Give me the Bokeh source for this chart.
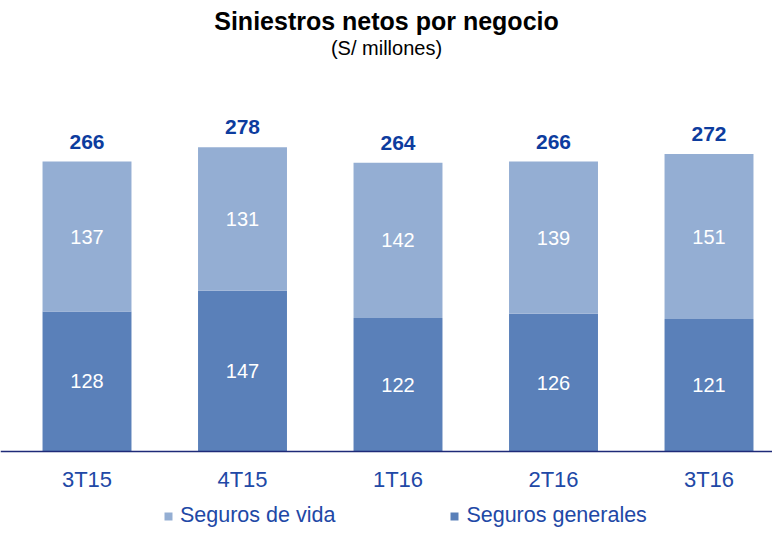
from bokeh.plotting import figure
from bokeh.models import (ColumnDataSource, Range1d, Title, Legend,
                          LegendItem, LabelSet, Span)
from bokeh.embed import file_html
from bokeh.resources import INLINE
from bokeh.core.properties import value

categories = ["3T15", "4T15", "1T16", "2T16", "3T16"]
seguros_generales = [128, 147, 122, 126, 121]
seguros_vida = [137, 131, 142, 139, 151]
totales = [266, 278, 264, 266, 272]

C_VIDA = "#94AED3"
C_GEN = "#5A80B9"
C_TOTAL = "#0D3C9E"
C_AXLBL = "#2148A6"
C_AXLINE = "#1E2A78"
FONT = "Liberation Sans"

xs = list(range(len(categories)))
src = ColumnDataSource(dict(
    x=xs,
    cat=categories,
    base=[0] * len(categories),
    gen=seguros_generales,
    vida=seguros_vida,
    total=totales,
    gen_mid=[g / 2 for g in seguros_generales],
    vida_mid=[g + v / 2 for g, v in zip(seguros_generales, seguros_vida)],
    top=[g + v for g, v in zip(seguros_generales, seguros_vida)],
    gen_lbl=[str(g) for g in seguros_generales],
    vida_lbl=[str(v) for v in seguros_vida],
    tot_lbl=[str(t) for t in totales],
))

W, H = 772, 536
p = figure(width=W, height=H, output_backend="svg", toolbar_location=None,
           x_range=Range1d(-0.5563, 4.4083), y_range=Range1d(-77.7, 359.2),
           min_border=0, min_border_top=58, outline_line_color=None,
           background_fill_color="white", border_fill_color="white",
           x_axis_type=None, y_axis_type=None)

sub = Title(text="(S/ millones)", align="center", text_font=FONT,
            text_font_size="20px", text_font_style="normal", text_color="black",
            standoff=0, offset=4)
main = Title(text="Siniestros netos por negocio", align="center", text_font=FONT,
             text_font_size="25px", text_font_style="bold", text_color="black",
             standoff=0, offset=6)
p.add_layout(sub, "above")
p.add_layout(main, "above")

p.xgrid.visible = False
p.ygrid.visible = False

bw = 0.572
r = p.vbar_stack(["gen", "vida"], x="x", width=bw, source=src,
                 color=[C_GEN, C_VIDA], line_color=None)

# category axis line and labels
p.add_layout(Span(location=0, dimension="width", line_color=C_AXLINE,
                  line_width=1.5))
p.add_layout(LabelSet(x="x", y="base", text="cat", source=src,
                      text_align="center", text_baseline="middle",
                      y_offset=-28, text_color=C_AXLBL, text_font=value(FONT),
                      text_font_size="22px"))

p.add_layout(LabelSet(x="x", y="gen_mid", text="gen_lbl", source=src,
                      text_align="center", text_baseline="middle",
                      text_color="white", text_font=value(FONT),
                      text_font_size="20px"))
p.add_layout(LabelSet(x="x", y="vida_mid", text="vida_lbl", source=src,
                      text_align="center", text_baseline="middle",
                      text_color="white", text_font=value(FONT),
                      text_font_size="20px"))
p.add_layout(LabelSet(x="x", y="top", text="tot_lbl", source=src,
                      text_align="center", text_baseline="alphabetic",
                      y_offset=13, text_color=C_TOTAL, text_font=value(FONT),
                      text_font_size="21px", text_font_style="bold"))

legend = Legend(items=[LegendItem(label="Seguros de vida", renderers=[r[1]]),
                       LegendItem(label="Seguros generales", renderers=[r[0]])],
                orientation="horizontal", location=(163, 8),
                label_text_font=FONT, label_text_font_size="21.5px",
                label_text_color=C_AXLBL, glyph_width=10, glyph_height=10,
                spacing=114, padding=0, margin=0, border_line_color=None,
                background_fill_alpha=0, label_standoff=7)
p.add_layout(legend, "center")

open("out.html", "w").write(file_html(p, INLINE))
